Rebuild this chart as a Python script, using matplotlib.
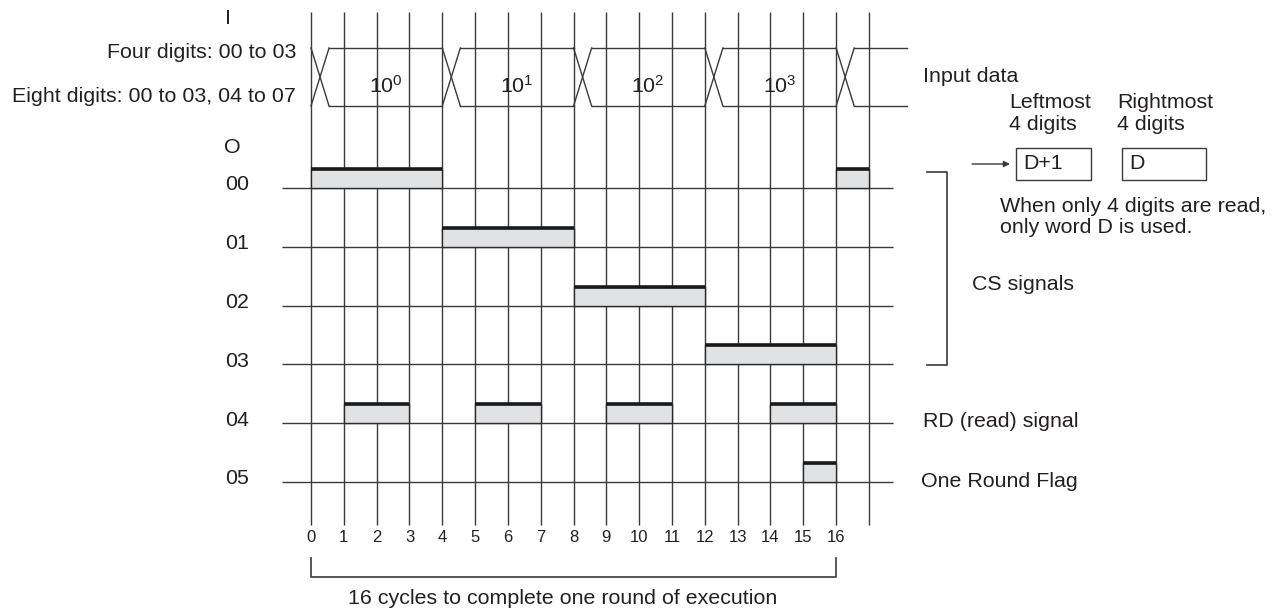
import matplotlib.pyplot as plt
from matplotlib.patches import Rectangle

plt.rcParams['font.family'] = ['Liberation Sans', 'DejaVu Sans']

# ---- data ----
grid_cycles = list(range(18))               # vertical lines 0..17
tick_labels = [str(i) for i in range(17)]   # 0..16
bus_change = [0, 4, 8, 12, 16]              # input data changes
bus_exponents = ['0', '1', '2', '3']
row_names = ['00', '01', '02', '03', '04', '05']
row_index = [0, 1, 2, 3, 4, 5]

cs_rows = [0, 1, 2, 3, 0]
cs_start = [0, 4, 8, 12, 16]
cs_end = [4, 8, 12, 16, 17]
rd_start = [1, 5, 9, 14]
rd_end = [3, 7, 11, 16]
flag_start = [15]
flag_end = [16]

# ---- layout (pixels) ----
W, H = 1273, 610
PX_CYC, X0 = 32.82, 311
PX_ROW, Y0 = 58.8, 188
TXT = '#231f20'
LINE = '#3a3a3a'
FILL = '#e1e2e4'
FS = 15.4


def px(x, y):
    # pixel position -> data units (cycles, rows)
    return (x - X0) / PX_CYC, (y - Y0) / PX_ROW


fig = plt.figure(figsize=(W / 100, H / 100), dpi=100)
ax = fig.add_axes([0, 0, 1, 1])
ax.set_xlim(-X0 / PX_CYC, (W - X0) / PX_CYC)
ax.set_ylim((H - Y0) / PX_ROW, -Y0 / PX_ROW)
ax.axis('off')

# grid
_, vtop = px(0, 12)
_, vbot = px(0, 525)
ax.vlines(grid_cycles, vtop, vbot, color=LINE, lw=1)
xl, _ = px(282, 0)
xr, _ = px(893, 0)
ax.hlines(row_index, xl, xr, color=LINE, lw=1)

# input data bus
_, bt = px(0, 48)
_, bb = px(0, 106)
xw = 0.55
bus_end, _ = px(907, 0)
for i, c in enumerate(bus_change):
    ax.plot([c, c + xw], [bt, bb], color=LINE, lw=1)
    ax.plot([c, c + xw], [bb, bt], color=LINE, lw=1)
    nxt = bus_change[i + 1] if i + 1 < len(bus_change) else bus_end
    ax.plot([c + xw, nxt], [bt, bt], color=LINE, lw=1)
    ax.plot([c + xw, nxt], [bb, bb], color=LINE, lw=1)
    if i < len(bus_exponents):
        ax.text((c + xw + nxt) / 2, px(0, 93)[1],
                r'$\mathregular{10^{%s}}$' % bus_exponents[i],
                ha='center', va='baseline', fontsize=FS, color=TXT)

# pulses
PH = 19 / PX_ROW


def pulses(rows, starts, ends):
    for r, s, e in zip(rows, starts, ends):
        ax.bar(s, PH, width=e - s, bottom=r - PH, align='edge',
               color=FILL, edgecolor='#2a2a2a', lw=1, zorder=3)
        ax.hlines(r - PH, s, e, color='#1a1a1a', lw=2.6, zorder=4)


pulses(cs_rows, cs_start, cs_end)
pulses([4] * len(rd_start), rd_start, rd_end)
pulses([5] * len(flag_start), flag_start, flag_end)

# row labels
for r, name in zip(row_index, row_names):
    ax.text(px(237, 0)[0], r - 3 / PX_ROW, name, ha='center', va='center',
            fontsize=FS, color=TXT)
ax.text(*px(228, 18), 'I', ha='center', va='center', fontsize=FS, color=TXT)
ax.text(*px(232, 148), 'O', ha='center', va='center', fontsize=FS, color=TXT)
ax.text(*px(296, 53), 'Four digits: 00 to 03', ha='right', va='center',
        fontsize=FS, color=TXT)
ax.text(*px(296, 97), 'Eight digits: 00 to 03, 04 to 07', ha='right',
        va='center', fontsize=FS, color=TXT)

# cycle numbers
for c, lab in zip(grid_cycles, tick_labels):
    ax.text(c, px(0, 537)[1], lab, ha='center', va='center', fontsize=12,
            color=TXT)

# bracket under cycles
_, b1 = px(0, 558)
_, b2 = px(0, 577)
ax.plot([0, 0, 16, 16], [b1, b2, b2, b1], color=LINE, lw=1.2)
ax.text(*px(563, 599), '16 cycles to complete one round of execution',
        ha='center', va='center', fontsize=FS, color=TXT)

# right side annotations
ax.text(*px(923, 76), 'Input data', ha='left', va='center', fontsize=FS,
        color=TXT)
ax.text(*px(1009, 103), 'Leftmost', ha='left', va='center', fontsize=FS,
        color=TXT)
ax.text(*px(1009, 125), '4 digits', ha='left', va='center', fontsize=FS,
        color=TXT)
ax.text(*px(1117, 103), 'Rightmost', ha='left', va='center', fontsize=FS,
        color=TXT)
ax.text(*px(1117, 125), '4 digits', ha='left', va='center', fontsize=FS,
        color=TXT)

for x1, x2, lab in [(1016, 1091, 'D+1'), (1122, 1206, 'D')]:
    bx, by = px(x1, 180)
    ax.add_patch(Rectangle((bx, by), (x2 - x1) / PX_CYC, -32 / PX_ROW,
                           facecolor='white', edgecolor=LINE, lw=1))
    ax.text(*px(x1 + 7, 164), lab, ha='left', va='center', fontsize=FS,
            color=TXT)
ax.annotate('', xy=px(1010, 164), xytext=px(972, 164),
            arrowprops=dict(arrowstyle='-|>', color=LINE, lw=1,
                            mutation_scale=9, shrinkA=0, shrinkB=0))
ax.text(*px(1000, 207), 'When only 4 digits are read,', ha='left',
        va='center', fontsize=FS, color=TXT)
ax.text(*px(1000, 228), 'only word D is used.', ha='left', va='center',
        fontsize=FS, color=TXT)

# CS bracket
cx1, cy1 = px(927, 172)
cx2, cy2 = px(947, 365)
ax.plot([cx1, cx2, cx2, cx1], [cy1, cy1, cy2, cy2], color=LINE, lw=1.2)
ax.text(*px(972, 285), 'CS signals', ha='left', va='center', fontsize=FS,
        color=TXT)
ax.text(*px(923, 422), 'RD (read) signal', ha='left', va='center',
        fontsize=FS, color=TXT)
ax.text(*px(921, 482), 'One Round Flag', ha='left', va='center',
        fontsize=FS, color=TXT)

fig.savefig('out.png', dpi=100)
